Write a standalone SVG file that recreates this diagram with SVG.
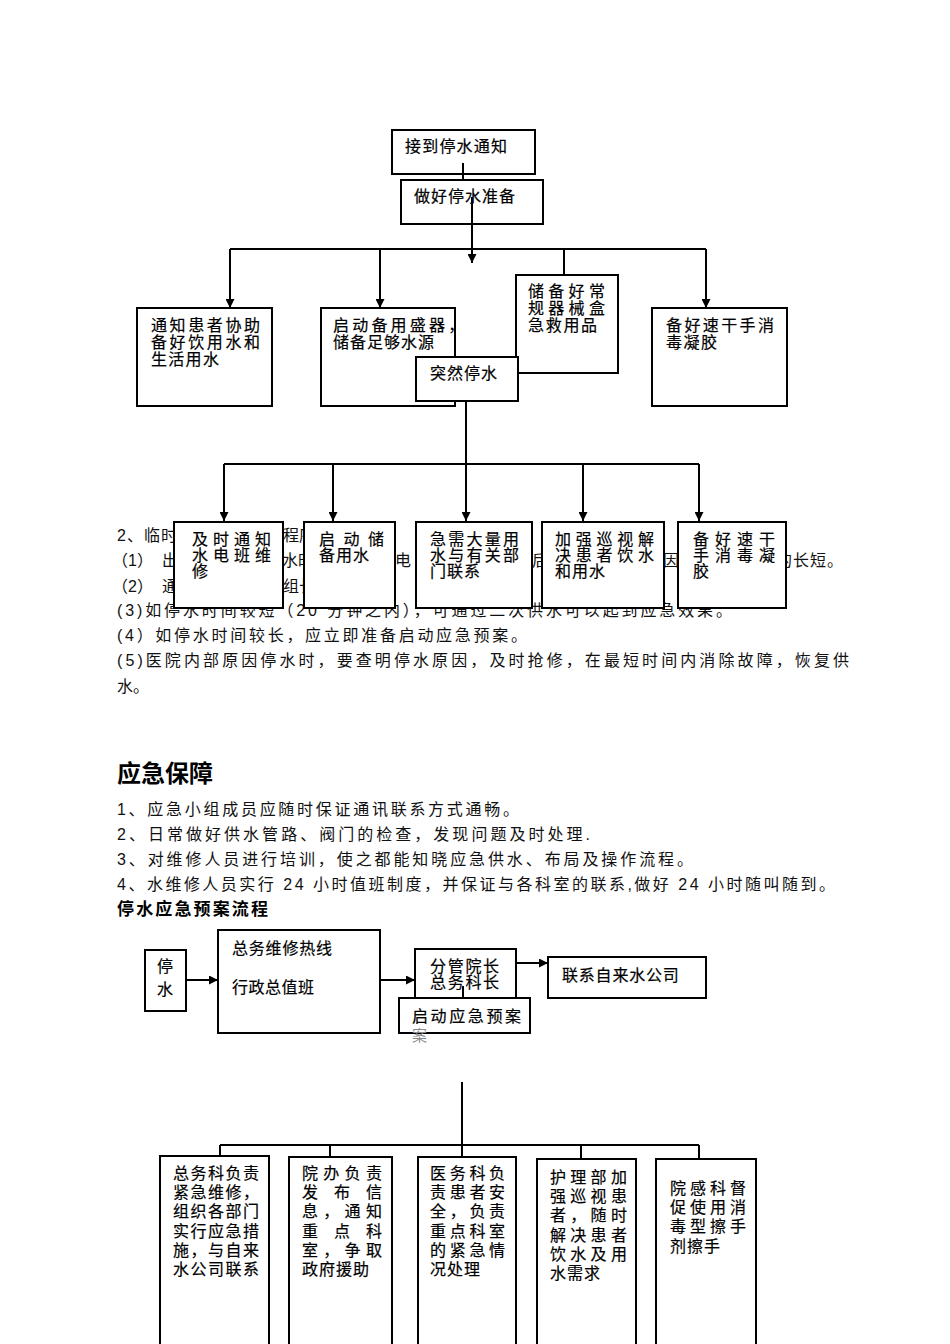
<svg xmlns="http://www.w3.org/2000/svg" width="950" height="1344" viewBox="0 0 950 1344">
<style>
.bg{fill:#fff}
.bx{fill:#fff;stroke:#000;stroke-width:2}
.t{font-family:"Liberation Sans","Noto Sans CJK SC",sans-serif;font-size:16px;fill:#000;stroke:#000;stroke-width:0.2}
.b{font-family:"Liberation Sans","Noto Sans CJK SC",sans-serif;font-size:16px;fill:#111}
.h{font-family:"Liberation Sans","Noto Sans CJK SC",sans-serif;font-weight:bold;fill:#000}
.c{stroke:#000;stroke-width:2;fill:none}
.g{font-family:"Liberation Sans","Noto Sans CJK SC",sans-serif;font-size:15px;fill:#8a8a8a}
</style>
<defs>
<marker id="ah" viewBox="0 0 10 10" refX="10" refY="5" markerWidth="9" markerHeight="9" orient="auto" markerUnits="userSpaceOnUse">
<path d="M0,0 L10,5 L0,10 z" fill="#000"/>
</marker>
</defs>
<rect class="bg" x="0" y="0" width="950" height="1344"/>

<!-- body text of section 2 (partly hidden by boxes) -->
<g id="body-text">
<text class="b" x="117" y="541" letter-spacing="1">2、临时</text>
<text class="b" x="283" y="541">程序</text>
<text class="b" x="112" y="566">（1）</text>
<text class="b" x="162" y="566">出</text>
<text class="b" x="282" y="566">水时</text>
<text class="b" x="395" y="566">电</text>
<text class="b" x="532" y="566">后</text>
<text class="b" x="663" y="566">因</text>
<text class="b" x="776" y="566" letter-spacing="1">的长短。</text>
<text class="b" x="112" y="592">（2）</text>
<text class="b" x="162" y="592">通</text>
<text class="b" x="283" y="592">组长</text>
<text class="b" x="386" y="592">，</text>
<text class="b" x="117" y="616" textLength="615" lengthAdjust="spacing">(3)如停水时间较短（20 分钟之内），可通过二次供水可以起到应急效果。</text>
<text class="b" x="117" y="641" textLength="410" lengthAdjust="spacing">(4）如停水时间较长，应立即准备启动应急预案。</text>
<text class="b" x="117" y="666" textLength="732" lengthAdjust="spacing">(5)医院内部原因停水时，要查明停水原因，及时抢修，在最短时间内消除故障，恢复供</text>
<text class="b" x="117" y="692">水。</text>
</g>

<g id="section-guarantee">
<text class="h" x="117" y="782" font-size="24">应急保障</text>
<text class="b" x="117" y="815" textLength="402" lengthAdjust="spacing">1、应急小组成员应随时保证通讯联系方式通畅。</text>
<text class="b" x="117" y="840" textLength="473" lengthAdjust="spacing">2、日常做好供水管路、阀门的检查，发现问题及时处理.</text>
<text class="b" x="117" y="865" textLength="576" lengthAdjust="spacing">3、对维修人员进行培训，使之都能知晓应急供水、布局及操作流程。</text>
<text class="b" x="117" y="890" textLength="718" lengthAdjust="spacing">4、水维修人员实行 24 小时值班制度，并保证与各科室的联系,做好 24 小时随叫随到。</text>
<text class="h" x="117" y="915" font-size="17" textLength="151" lengthAdjust="spacing">停水应急预案流程</text>
</g>

<!-- top flow -->
<g id="n-receive"><rect class="bx" x="392" y="130" width="143" height="44"/><text class="t" x="405" y="152" letter-spacing="1.2">接到停水通知</text></g>
<g id="n-prepare"><rect class="bx" x="401" y="180" width="142" height="44"/><text class="t" x="414" y="202" letter-spacing="1">做好停水准备</text></g>
<g id="n-notify"><rect class="bx" x="137" y="308" width="135" height="98"/>
<text class="t" x="151" y="331" letter-spacing="2.6">通知患者协助</text>
<text class="t" x="151" y="348" letter-spacing="2.6">备好饮用水和</text>
<text class="t" x="151" y="365" letter-spacing="1.3">生活用水</text></g>
<g id="n-container"><rect class="bx" x="321" y="308" width="134" height="98"/>
<text class="t" x="333" y="331" letter-spacing="3.2">启动备用盛器，</text>
<text class="t" x="333" y="348" letter-spacing="1">储备足够水源</text></g>
<g id="n-kit"><rect class="bx" x="516" y="275" width="102" height="98"/>
<text class="t" x="528" y="297" letter-spacing="4.3">储备好常</text>
<text class="t" x="528" y="314" letter-spacing="4.3">规器械盒</text>
<text class="t" x="528" y="331" letter-spacing="1.7">急救用品</text></g>
<g id="n-gel"><rect class="bx" x="652" y="308" width="135" height="98"/>
<text class="t" x="666" y="331" letter-spacing="2.4">备好速干手消</text>
<text class="t" x="666" y="348" letter-spacing="1.5">毒凝胶</text></g>
<g id="n-sudden"><rect class="bx" x="416" y="357" width="102" height="44"/><text class="t" x="430" y="379" letter-spacing="1">突然停水</text></g>

<g id="m-notify"><rect class="bx" x="174" y="522" width="109" height="86"/>
<text class="t" x="192" y="545" letter-spacing="5">及时通知</text>
<text class="t" x="192" y="561" letter-spacing="5">水电班维</text>
<text class="t" x="192" y="577">修</text></g>
<g id="m-store"><rect class="bx" x="304" y="522" width="91" height="86"/>
<text class="t" x="319" y="545" letter-spacing="8.5">启动储</text>
<text class="t" x="319" y="561" letter-spacing="1">备用水</text></g>
<g id="m-contact"><rect class="bx" x="416" y="522" width="116" height="86"/>
<text class="t" x="430" y="545" letter-spacing="2.25">急需大量用</text>
<text class="t" x="430" y="561" letter-spacing="2.25">水与有关部</text>
<text class="t" x="430" y="577" letter-spacing="1">门联系</text></g>
<g id="m-patrol"><rect class="bx" x="542" y="522" width="122" height="86"/>
<text class="t" x="555" y="545" letter-spacing="4.75">加强巡视解</text>
<text class="t" x="555" y="561" letter-spacing="4.75">决患者饮水</text>
<text class="t" x="555" y="577" letter-spacing="1">和用水</text></g>
<g id="m-gel"><rect class="bx" x="678" y="522" width="108" height="86"/>
<text class="t" x="693" y="545" letter-spacing="6">备好速干</text>
<text class="t" x="693" y="561" letter-spacing="6">手消毒凝</text>
<text class="t" x="693" y="577">胶</text></g>

<!-- bottom flow -->
<g id="f-stop"><rect class="bx" x="145" y="950" width="41" height="61"/>
<text class="t" x="157" y="972">停</text><text class="t" x="157" y="995">水</text></g>
<g id="f-hotline"><rect class="bx" x="218" y="930" width="162" height="103"/>
<text class="t" x="232" y="954" letter-spacing="0.8">总务维修热线</text>
<text class="t" x="232" y="993" letter-spacing="0.5">行政总值班</text></g>
<g id="f-leader"><rect class="bx" x="415" y="949" width="101" height="49"/>
<text class="t" x="430" y="972" letter-spacing="1.7">分管院长</text>
<text class="t" x="430" y="988" letter-spacing="1.7">总务科长</text></g>
<g id="f-plan"><rect class="bx" x="399" y="998" width="131" height="35"/>
<text class="t" x="412" y="1022" letter-spacing="2.6">启动应急预案</text>
<text class="g" x="412" y="1041">案</text></g>
<g id="f-water"><rect class="bx" x="548" y="957" width="158" height="41"/>
<text class="t" x="562" y="981" letter-spacing="0.8">联系自来水公司</text></g>

<g id="d-general"><rect class="bx" x="160" y="1156" width="109" height="200"/>
<text class="t" x="173" y="1179" letter-spacing="1.5">总务科负责</text>
<text class="t" x="173" y="1198" letter-spacing="1.5">紧急维修，</text>
<text class="t" x="173" y="1217" letter-spacing="1.5">组织各部门</text>
<text class="t" x="173" y="1237" letter-spacing="1.5">实行应急措</text>
<text class="t" x="173" y="1256" letter-spacing="1.5">施，与自来</text>
<text class="t" x="173" y="1275" letter-spacing="1.5">水公司联系</text></g>
<g id="d-office"><rect class="bx" x="289" y="1157" width="103" height="200"/>
<text class="t" x="302" y="1179" letter-spacing="5.3">院办负责</text>
<text class="t" x="302" y="1198" letter-spacing="16">发布信</text>
<text class="t" x="302" y="1217" letter-spacing="5.3">息，通知</text>
<text class="t" x="302" y="1237" letter-spacing="16">重点科</text>
<text class="t" x="302" y="1256" letter-spacing="5.3">室，争取</text>
<text class="t" x="302" y="1275" letter-spacing="1">政府援助</text></g>
<g id="d-medical"><rect class="bx" x="418" y="1157" width="98" height="200"/>
<text class="t" x="430" y="1179" letter-spacing="3.7">医务科负</text>
<text class="t" x="430" y="1198" letter-spacing="3.7">责患者安</text>
<text class="t" x="430" y="1217" letter-spacing="3.7">全，负责</text>
<text class="t" x="430" y="1237" letter-spacing="3.7">重点科室</text>
<text class="t" x="430" y="1256" letter-spacing="3.7">的紧急情</text>
<text class="t" x="430" y="1275" letter-spacing="1">况处理</text></g>
<g id="d-nursing"><rect class="bx" x="537" y="1159" width="99" height="200"/>
<text class="t" x="550" y="1183" letter-spacing="4.3">护理部加</text>
<text class="t" x="550" y="1202" letter-spacing="4.3">强巡视患</text>
<text class="t" x="550" y="1221" letter-spacing="4.3">者，随时</text>
<text class="t" x="550" y="1241" letter-spacing="4.3">解决患者</text>
<text class="t" x="550" y="1260" letter-spacing="4.3">饮水及用</text>
<text class="t" x="550" y="1279" letter-spacing="1">水需求</text></g>
<g id="d-infection"><rect class="bx" x="656" y="1159" width="100" height="200"/>
<text class="t" x="670" y="1194" letter-spacing="4">院感科督</text>
<text class="t" x="670" y="1213" letter-spacing="4">促使用消</text>
<text class="t" x="670" y="1232" letter-spacing="4">毒型擦手</text>
<text class="t" x="670" y="1252" letter-spacing="1">剂擦手</text></g>

<g id="connectors">
<path class="c" d="M463,163 V180"/>
<path class="c" d="M472,197 V263" marker-end="url(#ah)"/>
<path class="c" d="M230,249 H706"/>
<path class="c" d="M230,249 V308" marker-end="url(#ah)"/>
<path class="c" d="M380,249 V308" marker-end="url(#ah)"/>
<path class="c" d="M564,249 V275"/>
<path class="c" d="M706,249 V308" marker-end="url(#ah)"/>
<path class="c" d="M466,401 V521" marker-end="url(#ah)"/>
<path class="c" d="M224,464 H699"/>
<path class="c" d="M224,464 V521" marker-end="url(#ah)"/>
<path class="c" d="M333,464 V521" marker-end="url(#ah)"/>
<path class="c" d="M583,464 V521" marker-end="url(#ah)"/>
<path class="c" d="M699,464 V521" marker-end="url(#ah)"/>
<path class="c" d="M186,980 H218" marker-end="url(#ah)"/>
<path class="c" d="M380,980 H415" marker-end="url(#ah)"/>
<path class="c" d="M516,963 H548" marker-end="url(#ah)"/>
<path class="c" d="M463,986 V998"/>
<path class="c" d="M462,1082 V1157"/>
<path class="c" d="M220,1145 H699"/>
<path class="c" d="M220,1145 V1156"/>
<path class="c" d="M330,1145 V1157"/>
<path class="c" d="M581,1145 V1159"/>
<path class="c" d="M699,1145 V1159"/>
</g>
</svg>
